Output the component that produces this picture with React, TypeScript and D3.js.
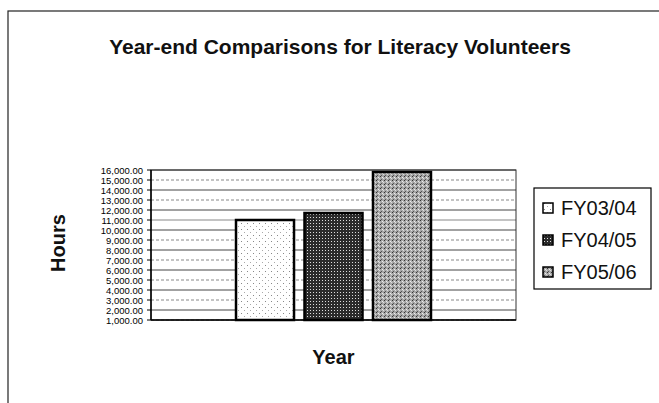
import React from "react"
import * as d3 from "d3"

// chart data
const seriesNames = ["FY03/04", "FY04/05", "FY05/06"]
const hours = [11000, 11700, 15800]
const category = ["Year"]
const tickValues = d3.range(1000, 16001, 1000)
const patternIds = ["pat-light", "pat-dark", "pat-gray"]

const W = 659
const H = 403
const plot = { left: 151, right: 516, top: 170, bottom: 320 }
const font = "'Liberation Sans', Arial, sans-serif"

const App = () => {
    const y = d3.scaleLinear().domain([1000, 16000]).range([plot.bottom, plot.top])
    // one group centred in the plot, three bars inside it
    const x0 = d3.scaleBand().domain(category).range([plot.left, plot.right]).paddingOuter(0.436)
    const x1 = d3.scaleBand().domain(seriesNames).range([0, x0.bandwidth()]).paddingInner(0.153)
    const fmt = d3.format(",.2f")

    const legendX = 534
    const legendTop = 188
    const legendStep = 32

    return (
        <svg width={W} height={H} style={{ position: "absolute", left: 0, top: 0, background: "#fff" }}>
            <defs>
                <pattern id="pat-light" width="6" height="6" patternUnits="userSpaceOnUse">
                    <rect width="6" height="6" fill="#fff" />
                    <rect x="1" y="1" width="1" height="1" fill="#888" />
                    <rect x="4" y="4" width="1" height="1" fill="#aaa" />
                </pattern>
                <pattern id="pat-dark" width="3" height="3" patternUnits="userSpaceOnUse">
                    <rect width="3" height="3" fill="#2b2b2b" />
                    <rect x="1" y="1" width="1" height="1" fill="#ddd" />
                </pattern>
                <pattern id="pat-gray" width="4" height="4" patternUnits="userSpaceOnUse">
                    <rect width="4" height="4" fill="#a8a8a8" />
                    <rect x="0" y="0" width="1" height="1" fill="#333" />
                    <rect x="2" y="1" width="1" height="1" fill="#eee" />
                    <rect x="1" y="3" width="1" height="1" fill="#555" />
                    <rect x="3" y="2" width="1" height="1" fill="#ddd" />
                </pattern>
            </defs>

            {/* outer chart border */}
            <rect x={8} y={11} width={W + 20} height={H + 20} fill="none" stroke="#222" strokeWidth={1.2} />

            <text x={340} y={54} textAnchor="middle" fontFamily={font} fontWeight="bold" fontSize={21} fill="#111">
                Year-end Comparisons for Literacy Volunteers
            </text>

            {/* gridlines */}
            {tickValues.map((t, i) => (
                <line key={"g" + t} x1={plot.left} x2={plot.right} y1={y(t)} y2={y(t)}
                    stroke={i % 2 === 0 ? "#888" : "#444"} strokeWidth={1}
                    strokeDasharray={i % 2 === 0 && t !== 11000 ? "3,2" : null} />
            ))}
            <rect x={plot.left} y={plot.top} width={plot.right - plot.left} height={plot.bottom - plot.top}
                fill="none" stroke="#333" strokeWidth={1} />

            {/* bars */}
            {hours.map((v, i) => (
                <rect key={seriesNames[i]}
                    x={x0("Year") + x1(seriesNames[i])} y={y(v)}
                    width={x1.bandwidth()} height={y(1000) - y(v)}
                    fill={`url(#${patternIds[i]})`} stroke="#000" strokeWidth={2.5} />
            ))}

            {/* y axis */}
            <line x1={plot.left} x2={plot.left} y1={plot.top} y2={plot.bottom} stroke="#000" strokeWidth={1.5} />
            <line x1={plot.left} x2={plot.right} y1={plot.bottom} y2={plot.bottom} stroke="#000" strokeWidth={1.5} />
            {tickValues.map(t => (
                <g key={"t" + t}>
                    <line x1={plot.left - 4} x2={plot.left} y1={y(t)} y2={y(t)} stroke="#000" />
                    <text x={plot.left - 8} y={y(t) + 3.5} textAnchor="end"
                        fontFamily={font} fontSize={9.5} fill="#000">
                        {fmt(t)}
                    </text>
                </g>
            ))}

            <text transform={`translate(65,243) rotate(-90)`} textAnchor="middle"
                fontFamily={font} fontWeight="bold" fontSize={20} fill="#111">Hours</text>
            <text x={(plot.left + plot.right) / 2} y={364} textAnchor="middle"
                fontFamily={font} fontWeight="bold" fontSize={20} fill="#111">Year</text>

            {/* legend */}
            <rect x={legendX} y={legendTop} width={117} height={101} fill="#fff" stroke="#000" strokeWidth={1.2} />
            {seriesNames.map((s, i) => (
                <g key={"l" + s} transform={`translate(${legendX + 9},${legendTop + 20 + i * legendStep})`}>
                    <rect x={0} y={-5} width={10} height={10} fill={`url(#${patternIds[i]})`} stroke="#000" strokeWidth={1.5} />
                    <text x={18} y={7} fontFamily={font} fontSize={20} fill="#111">{s}</text>
                </g>
            ))}
        </svg>
    )
}

export default App
